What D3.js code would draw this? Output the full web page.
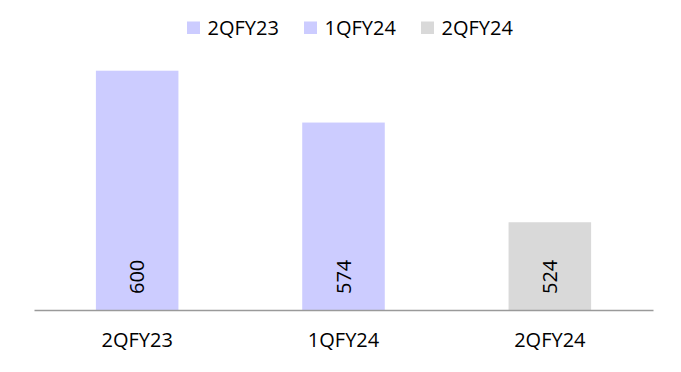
<!DOCTYPE html>
<html>
<head>
<meta charset="utf-8">
<script src="https://cdn.jsdelivr.net/npm/d3@7/dist/d3.min.js"></script>
<style>
  html, body { margin: 0; padding: 0; background: #fff; }
  svg { display: block; font-family: "Open Sans", sans-serif; }
</style>
</head>
<body>
<svg id="chart" width="681" height="372"></svg>
<script>
// Quarterly values
const categories = ["2QFY23", "1QFY24", "2QFY24"];
const values = [600, 574, 524];
const colors = ["#CCCCFF", "#CCCCFF", "#D9D9D9"];
const yDomain = [480, 600];

const FONT = "'Open Sans', sans-serif";
const FS = 20;

const svg = d3.select("#chart");
const margin = { left: 34, right: 28, top: 70.7, bottom: 62 };
const W = 681, H = 372;

const x = d3.scaleBand()
  .domain(categories)
  .range([margin.left, W - margin.right])
  .paddingInner(0.6)
  .paddingOuter(0.3);

const y = d3.scaleLinear()
  .domain(yDomain)
  .range([H - margin.bottom, margin.top]);

const base = y(yDomain[0]);

// Bars
svg.append("g").selectAll("rect")
  .data(categories)
  .join("rect")
  .attr("x", d => x(d))
  .attr("width", x.bandwidth())
  .attr("y", (d, i) => y(values[i]))
  .attr("height", (d, i) => base - y(values[i]))
  .attr("fill", (d, i) => colors[i]);

// Rotated value labels inside the bars
svg.append("g").selectAll("text")
  .data(categories)
  .join("text")
  .attr("transform", d => `translate(${x(d) + x.bandwidth() / 2},${base - 16}) rotate(-90)`)
  .attr("dy", "0.36em")
  .attr("text-anchor", "start")
  .attr("font-family", FONT)
  .attr("font-size", FS)
  .attr("fill", "#000")
  .text((d, i) => values[i]);

// Category axis
const xAxis = d3.axisBottom(x).tickSize(0).tickPadding(22.5);
const gx = svg.append("g")
  .attr("transform", `translate(0,${base})`)
  .call(xAxis);
gx.select(".domain").attr("stroke", "#9a9a9a").attr("stroke-width", 1.6);
gx.selectAll("text")
  .attr("font-size", FS)
  .attr("font-family", FONT)
  .attr("fill", "#000");

// Legend
const legendItems = [
  { label: categories[0], color: colors[0], x: 187 },
  { label: categories[1], color: colors[1], x: 304 },
  { label: categories[2], color: colors[2], x: 421 }
];
const lg = svg.append("g").selectAll("g")
  .data(legendItems)
  .join("g")
  .attr("transform", d => `translate(${d.x},0)`);
lg.append("rect")
  .attr("x", 0).attr("y", 21.5)
  .attr("width", 13).attr("height", 12.5)
  .attr("fill", d => d.color);
lg.append("text")
  .attr("x", 20.5).attr("y", 34.5)
  .attr("font-family", FONT)
  .attr("font-size", FS)
  .attr("fill", "#000")
  .text(d => d.label);
</script>
</body>
</html>
